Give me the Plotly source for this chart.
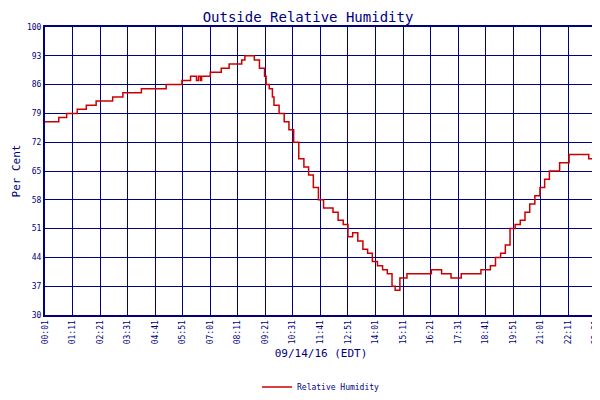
import plotly.graph_objects as go

# minutes since 00:01 and relative humidity (%)
minutes = [0, 35, 55, 82, 105, 130, 172, 198, 245, 308, 348, 370, 385, 390, 395, 398, 420, 448,
           468, 500, 508, 532, 545, 558, 562, 570, 578, 582, 595, 608, 620, 632, 645, 658, 670,
           682, 695, 708, 732, 745, 758, 770, 782, 795, 808, 820, 832, 845, 858, 870, 882, 890,
           902, 920, 958, 982, 1008, 1032, 1058, 1082, 1108, 1132, 1145, 1158, 1170, 1182, 1195,
           1208, 1220, 1232, 1245, 1258, 1270, 1282, 1308, 1332, 1358, 1382, 1395, 1403]
humidity = [77, 78, 79, 80, 81, 82, 83, 84, 85, 86, 87, 88, 87, 88, 87, 88, 89, 90,
            91, 92, 93, 92, 90, 88, 86, 85, 83, 81, 79, 77, 75, 72, 68, 66, 64,
            61, 58, 56, 55, 53, 52, 49, 50, 48, 46, 45, 43, 42, 41, 40, 37, 36,
            39, 40, 40, 41, 40, 39, 40, 40, 41, 42, 44, 45, 47, 51, 52,
            53, 55, 57, 59, 61, 63, 65, 67, 69, 69, 68, 66, 66]

tick_minutes = [i * 70 for i in range(21)] + [1403]
tick_labels = ["00:01", "01:11", "02:21", "03:31", "04:41", "05:51", "07:01", "08:11", "09:21",
               "10:31", "11:41", "12:51", "14:01", "15:11", "16:21", "17:31", "18:41", "19:51",
               "21:01", "22:11", "23:21", "23:24"]
y_ticks = [30, 37, 44, 51, 58, 65, 72, 79, 86, 93, 100]

navy = "#000080"
fig = go.Figure(go.Scatter(x=minutes, y=humidity, mode="lines", line_shape="hv",
                           line=dict(color="#cc0000", width=1.5), name="Relative Humidity"))
fig.update_layout(
    width=600, height=400, paper_bgcolor="white", plot_bgcolor="white",
    margin=dict(l=37, r=6, t=19, b=63),
    font=dict(family="DejaVu Sans Mono", color=navy, size=9),
    title=dict(text="Outside Relative Humidity", x=0.5, y=0.99, yanchor="top",
               font=dict(size=14, color=navy)),
    showlegend=True,
    legend=dict(orientation="h", x=0.5, xanchor="center", y=-0.2, yanchor="top",
                font=dict(size=8)),
)
fig.update_xaxes(range=[0, 1403], tickvals=tick_minutes, ticktext=tick_labels, tickangle=-90,
                 showgrid=True, gridcolor=navy, gridwidth=1, showline=True, linecolor=navy,
                 mirror=True, linewidth=2, zeroline=False, tickfont=dict(size=8),
                 title=dict(text="09/14/16 (EDT)", font=dict(size=11), standoff=6))
fig.update_yaxes(range=[30, 100], tickvals=y_ticks, showgrid=True, gridcolor=navy, gridwidth=1,
                 showline=True, linecolor=navy, mirror=True, linewidth=2, zeroline=False,
                 tickfont=dict(size=8), title=dict(text="Per Cent", font=dict(size=11), standoff=4))
fig.write_html("out.html")
